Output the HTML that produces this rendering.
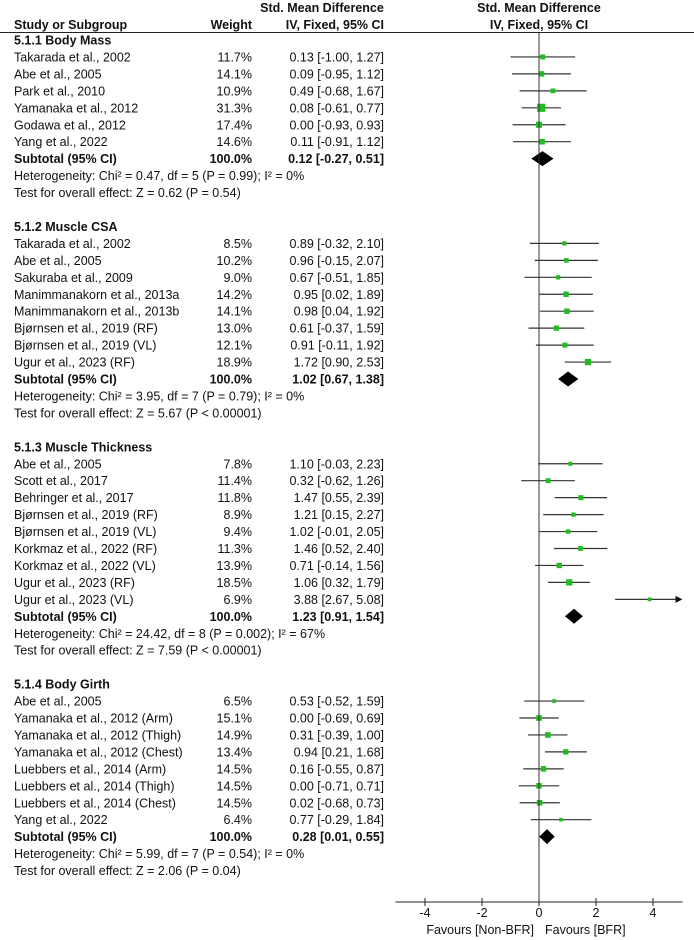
<!DOCTYPE html>
<html><head><meta charset="utf-8">
<style>
html,body{margin:0;padding:0;background:#fff;}
svg{display:block;font-family:"Liberation Sans",Arial,sans-serif;}
text{font-size:12.5px;fill:#111;}
.b{font-weight:bold;}
</style></head>
<body>
<svg id="plot" width="694" height="940" viewBox="0 0 694 940" xmlns="http://www.w3.org/2000/svg">
  <g>
    <text class="b" x="322" y="12" text-anchor="middle">Std. Mean Difference</text>
    <text class="b" x="14" y="29">Study or Subgroup</text>
    <text class="b" x="252" y="29" text-anchor="end">Weight</text>
    <text class="b" x="384" y="29" text-anchor="end">IV, Fixed, 95% CI</text>
    <text class="b" x="539" y="12" text-anchor="middle">Std. Mean Difference</text>
    <text class="b" x="539" y="29" text-anchor="middle">IV, Fixed, 95% CI</text>
    <line x1="0" y1="32.5" x2="694" y2="32.5" stroke="#222" stroke-width="1"/>
  </g>
  <g id="rows"></g>
  <g id="marks"></g>
  <g id="axis"></g>
</svg>
<script>
const groupTitles = ["5.1.1 Body Mass","5.1.2 Muscle CSA","5.1.3 Muscle Thickness","5.1.4 Body Girth"];
const groupHet = ["Heterogeneity: Chi\u00b2 = 0.47, df = 5 (P = 0.99); I\u00b2 = 0%","Heterogeneity: Chi\u00b2 = 3.95, df = 7 (P = 0.79); I\u00b2 = 0%","Heterogeneity: Chi\u00b2 = 24.42, df = 8 (P = 0.002); I\u00b2 = 67%","Heterogeneity: Chi\u00b2 = 5.99, df = 7 (P = 0.54); I\u00b2 = 0%"];
const groupTest = ["Test for overall effect: Z = 0.62 (P = 0.54)","Test for overall effect: Z = 5.67 (P < 0.00001)","Test for overall effect: Z = 7.59 (P < 0.00001)","Test for overall effect: Z = 2.06 (P = 0.04)"];
const subEst = [0.12,1.02,1.23,0.28];
const subLo = [-0.27,0.67,0.91,0.01];
const subHi = [0.51,1.38,1.54,0.55];
const studyNames = ["Takarada et al., 2002","Abe et al., 2005","Park et al., 2010","Yamanaka et al., 2012","Godawa et al., 2012","Yang et al., 2022",
"Takarada et al., 2002","Abe et al., 2005","Sakuraba et al., 2009","Manimmanakorn et al., 2013a","Manimmanakorn et al., 2013b","Bjørnsen et al., 2019 (RF)","Bjørnsen et al., 2019 (VL)","Ugur et al., 2023 (RF)",
"Abe et al., 2005","Scott et al., 2017","Behringer et al., 2017","Bjørnsen et al., 2019 (RF)","Bjørnsen et al., 2019 (VL)","Korkmaz et al., 2022 (RF)","Korkmaz et al., 2022 (VL)","Ugur et al., 2023 (RF)","Ugur et al., 2023 (VL)",
"Abe et al., 2005","Yamanaka et al., 2012 (Arm)","Yamanaka et al., 2012 (Thigh)","Yamanaka et al., 2012 (Chest)","Luebbers et al., 2014 (Arm)","Luebbers et al., 2014 (Thigh)","Luebbers et al., 2014 (Chest)","Yang et al., 2022"];
const studyGroup = [0,0,0,0,0,0, 1,1,1,1,1,1,1,1, 2,2,2,2,2,2,2,2,2, 3,3,3,3,3,3,3,3];
const weights = [11.7,14.1,10.9,31.3,17.4,14.6, 8.5,10.2,9.0,14.2,14.1,13.0,12.1,18.9, 7.8,11.4,11.8,8.9,9.4,11.3,13.9,18.5,6.9, 6.5,15.1,14.9,13.4,14.5,14.5,14.5,6.4];
const smd = [0.13,0.09,0.49,0.08,0.00,0.11, 0.89,0.96,0.67,0.95,0.98,0.61,0.91,1.72, 1.10,0.32,1.47,1.21,1.02,1.46,0.71,1.06,3.88, 0.53,0.00,0.31,0.94,0.16,0.00,0.02,0.77];
const ciLo = [-1.00,-0.95,-0.68,-0.61,-0.93,-0.91, -0.32,-0.15,-0.51,0.02,0.04,-0.37,-0.11,0.90, -0.03,-0.62,0.55,0.15,-0.01,0.52,-0.14,0.32,2.67, -0.52,-0.69,-0.39,0.21,-0.55,-0.71,-0.68,-0.29];
const ciHi = [1.27,1.12,1.67,0.77,0.93,1.12, 2.10,2.07,1.85,1.89,1.92,1.59,1.92,2.53, 2.23,1.26,2.39,2.27,2.05,2.40,1.56,1.79,5.08, 1.59,0.69,1.00,1.68,0.87,0.71,0.73,1.84];
const axisTicks = [-4,-2,0,2,4];
const axisMin = -5, axisMax = 5;

const NS = "http://www.w3.org/2000/svg";
const X0 = 539, SCALE = 28.5;
function xs(v){ return X0 + v*SCALE; }
const Y0 = 40, PITCH = 16.95;
function ys(i){ return Y0 + i*PITCH; }
function mk(tag, attrs, parent){
  const e = document.createElementNS(NS, tag);
  for (const k in attrs) e.setAttribute(k, attrs[k]);
  parent.appendChild(e); return e;
}
function f2(v){ return v.toFixed(2); }
const rows = document.getElementById('rows');
const marks = document.getElementById('marks');
const axis = document.getElementById('axis');

function txt(x, y, s, cls, anchor){
  const t = mk('text', {x:x, y:y+4.5}, rows);
  if (cls) t.setAttribute('class', cls);
  if (anchor) t.setAttribute('text-anchor', anchor);
  t.textContent = s;
  return t;
}

let idx = 0;
let lastY = 0;
for (let g = 0; g < groupTitles.length; g++){
  let t = txt(14, ys(idx), groupTitles[g], 'b');
  
  
  idx++;
  for (let s = 0; s < studyNames.length; s++){
    if (studyGroup[s] !== g) continue;
    const y = ys(idx);
    t = txt(14, y, studyNames[s]);
    
    
    t = txt(252, y, weights[s].toFixed(1) + '%', null, 'end');
    
    
    t = txt(384, y, f2(smd[s]) + ' [' + f2(ciLo[s]) + ', ' + f2(ciHi[s]) + ']', null, 'end');
    
    
    const lo = Math.max(ciLo[s], axisMin), hi = Math.min(ciHi[s], axisMax);
    const ln = mk('line', {x1:xs(lo), y1:y, x2:xs(hi), y2:y, stroke:'#333', 'stroke-width':1.2}, marks);
    
    
    if (ciHi[s] > axisMax){
      const ar = mk('polygon', {points:(xs(axisMax)+1)+','+y+' '+(xs(axisMax)-6)+','+(y-3.5)+' '+(xs(axisMax)-6)+','+(y+3.5), fill:'#111'}, marks);
      
      
    }
    const side = 1.45*Math.sqrt(weights[s]);
    const sq = mk('rect', {x:xs(smd[s])-side/2, y:y-side/2, width:side, height:side, fill:'#22bb22'}, marks);
    
    
    idx++;
  }
  const y = ys(idx);
  t = txt(14, y, 'Subtotal (95% CI)', 'b');
  
  
  t = txt(252, y, '100.0%', 'b', 'end');
  
  
  t = txt(384, y, f2(subEst[g]) + ' [' + f2(subLo[g]) + ', ' + f2(subHi[g]) + ']', 'b', 'end');
  
  
  const d = mk('polygon', {points:xs(subLo[g])+','+y+' '+xs(subEst[g])+','+(y-7.5)+' '+xs(subHi[g])+','+y+' '+xs(subEst[g])+','+(y+7.5), fill:'#000'}, marks);
  
  
  idx++;
  t = txt(14, ys(idx), groupHet[g]);
  
  
  idx++;
  t = txt(14, ys(idx), groupTest[g]);
  
  
  lastY = ys(idx);
  idx += 2;
}

const AY = 902;
const zl = mk('line', {x1:xs(0), y1:33, x2:xs(0), y2:AY, stroke:'#333', 'stroke-width':1}, axis);


const al = mk('line', {x1:xs(axisMin)-1, y1:AY, x2:xs(axisMax)+1, y2:AY, stroke:'#222', 'stroke-width':1}, axis);


for (const tv of axisTicks){
  const tk = mk('line', {x1:xs(tv), y1:AY-4, x2:xs(tv), y2:AY+4, stroke:'#222', 'stroke-width':1}, axis);
  
  
  const tl = mk('text', {x:xs(tv), y:AY+15, 'text-anchor':'middle'}, axis);
  
  
  tl.textContent = String(tv);
}
const fl = mk('text', {x:xs(0)-5, y:AY+32, 'text-anchor':'end'}, axis);


fl.textContent = 'Favours [Non-BFR]';
const fr = mk('text', {x:xs(0)+6, y:AY+32, 'text-anchor':'start'}, axis);


fr.textContent = 'Favours [BFR]';
</script>
</body></html>
